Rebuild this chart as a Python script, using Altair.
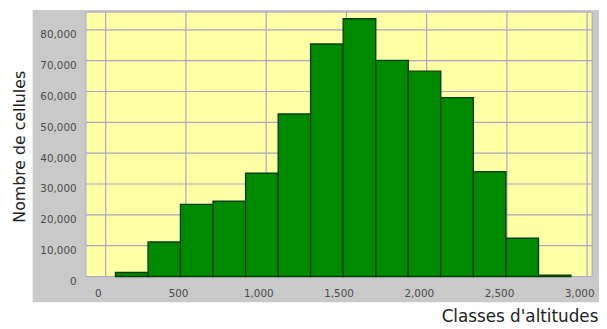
import altair as alt
import pandas as pd

# ---- data ----
bin_start = [61, 264, 466, 669, 872, 1075, 1277, 1480, 1683, 1886, 2088, 2291, 2494, 2697]
bin_end = [264, 466, 669, 872, 1075, 1277, 1480, 1683, 1886, 2088, 2291, 2494, 2697, 2899]
counts = [1300, 11200, 23400, 24400, 33500, 52700, 75400, 83600, 70100, 66600, 58000, 34000, 12400, 400]
x_ticks = [0, 500, 1000, 1500, 2000, 2500, 3000]
y_ticks = [0, 10000, 20000, 30000, 40000, 50000, 60000, 70000, 80000]

x_title = "Classes d'altitudes"
y_title = "Nombre de cellules"

# ---- layout / style ----
W, H = 513, 268
PAD = {"left": 79, "top": 2, "right": 7, "bottom": 47}
X_DOMAIN = [-123, 3031]
Y_DOMAIN = [0, 85760]
GRAY = "#c9c9c9"
YELLOW = "#ffffa6"
GRID = "#aca4c4"
FONT = "DejaVu Sans"

bars_df = pd.DataFrame({"start": bin_start, "end": bin_end, "count": counts})
xt_df = pd.DataFrame({"xv": x_ticks})
yt_df = pd.DataFrame({"yv": y_ticks})
one = pd.DataFrame({"a": [0]})

x_scale = alt.Scale(domain=X_DOMAIN, nice=False, zero=False)
y_scale = alt.Scale(domain=Y_DOMAIN, nice=False)

x_axis = alt.Axis(
    values=x_ticks, format=",.0f", grid=False, domain=False, ticks=False,
    labelOffset=-8, labelPadding=12, labelFontSize=10.5, labelColor="#4a4a4a",
    labelFont=FONT, title=x_title, titleFont=FONT, titleFontSize=17,
    titleFontWeight="normal", titleColor="#222222", titleAlign="left",
    titleBaseline="middle", titleX=360, titleY=41, zindex=1,
)
y_axis = alt.Axis(
    values=y_ticks, format=",.0f", grid=False, domain=False, ticks=False,
    labelOffset=5, labelPadding=10, labelFontSize=10.5, labelColor="#4a4a4a",
    labelFont=FONT, title=y_title, titleFont=FONT, titleFontSize=16,
    titleFontWeight="normal", titleColor="#222222", titleAngle=270,
    titleAlign="center", titleBaseline="middle", titleX=-67, titleY=136,
    zindex=1,
)

gray_panel = alt.Chart(one).mark_rect(color=GRAY).encode(
    x=alt.value(-54), x2=alt.value(W + 7), y=alt.value(-2), y2=alt.value(H + 26)
)
yellow_panel = alt.Chart(one).mark_rect(fill=YELLOW, stroke=GRID, strokeWidth=1).encode(
    x=alt.value(0), x2=alt.value(W), y=alt.value(0), y2=alt.value(H)
)
vgrid = alt.Chart(xt_df).mark_rule(color=GRID, strokeWidth=1.2).encode(
    x=alt.X("xv:Q", scale=x_scale, axis=x_axis)
)
hgrid = alt.Chart(yt_df).mark_rule(color=GRID, strokeWidth=1.2).encode(
    y=alt.Y("yv:Q", scale=y_scale, axis=y_axis)
)
bars = alt.Chart(bars_df).mark_rect(
    color="#008a00", stroke="#0b3d0b", strokeWidth=1.4
).encode(
    x=alt.X("start:Q", scale=x_scale, axis=x_axis),
    x2="end:Q",
    y=alt.Y("count:Q", scale=y_scale, axis=y_axis),
    y2=alt.datum(0),
)

chart = alt.layer(gray_panel, yellow_panel, vgrid, hgrid, bars).properties(
    width=W, height=H, padding=PAD, autosize=alt.AutoSizeParams(type="none"),
    background="white",
).configure_view(stroke=None)

chart.save("out.html", embed_options={"renderer": "svg", "actions": False})
